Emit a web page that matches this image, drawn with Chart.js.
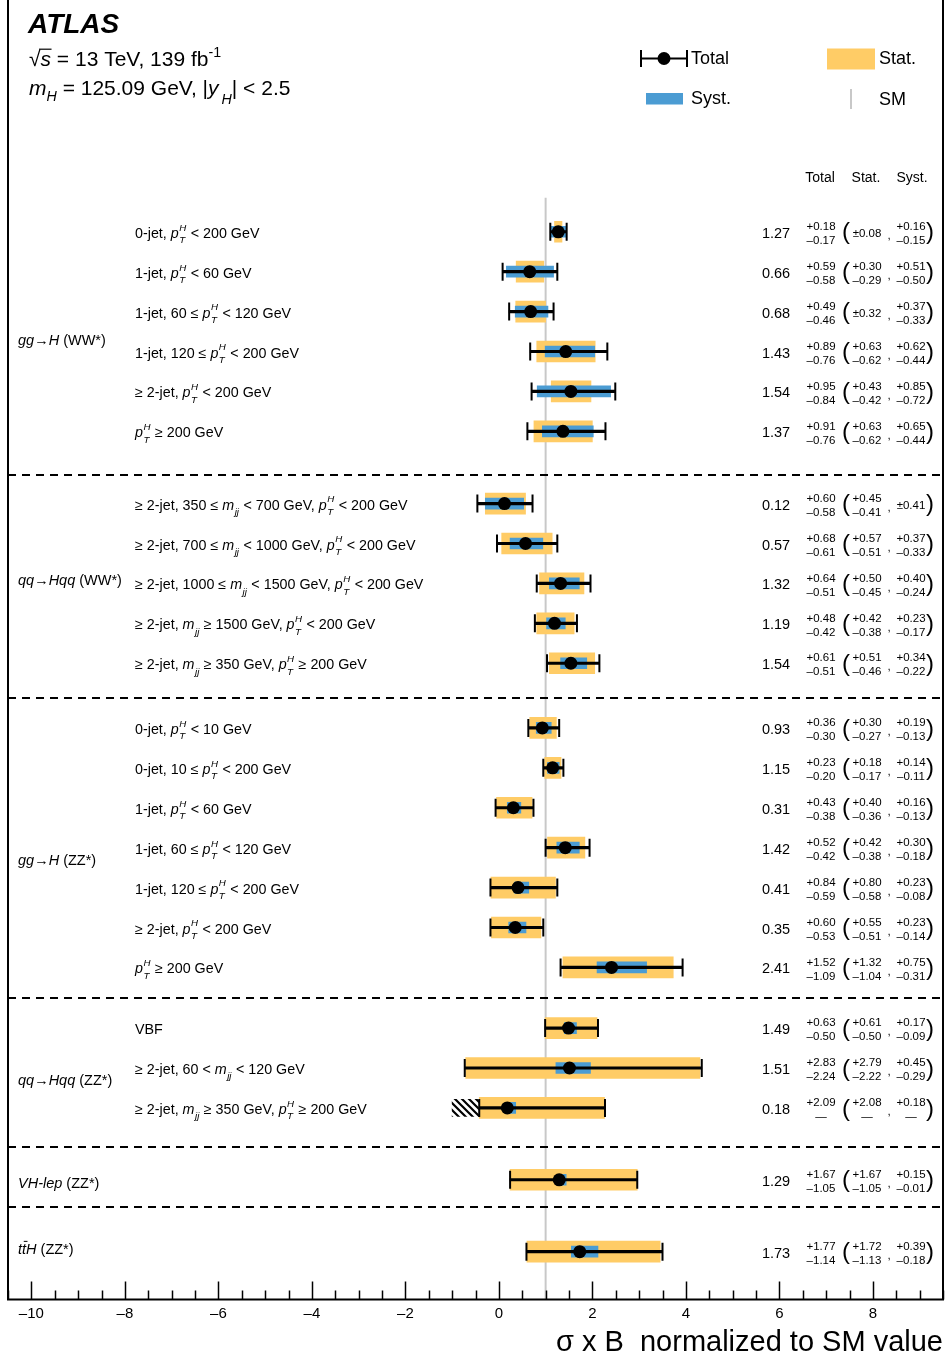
<!DOCTYPE html>
<html>
<head>
<meta charset="utf-8">
<script src="https://cdn.jsdelivr.net/npm/chart.js@4.4.1/dist/chart.umd.min.js"></script>
<style>
html,body{margin:0;padding:0;background:#fff;}
#wrap{width:945px;height:1365px;position:relative;}
canvas{display:block;}
</style>
</head>
<body>
<div id="wrap"><canvas id="c" width="945" height="1365"></canvas></div>
<script>
// ---------------- DATA ----------------
const rowLabels = [
  "0-jet, {pT} < 200 GeV",
  "1-jet, {pT} < 60 GeV",
  "1-jet, 60 \u2264 {pT} < 120 GeV",
  "1-jet, 120 \u2264 {pT} < 200 GeV",
  "\u2265 2-jet, {pT} < 200 GeV",
  "{pT} \u2265 200 GeV",
  "\u2265 2-jet, 350 \u2264 {mjj} < 700 GeV, {pT} < 200 GeV",
  "\u2265 2-jet, 700 \u2264 {mjj} < 1000 GeV, {pT} < 200 GeV",
  "\u2265 2-jet, 1000 \u2264 {mjj} < 1500 GeV, {pT} < 200 GeV",
  "\u2265 2-jet, {mjj} \u2265 1500 GeV, {pT} < 200 GeV",
  "\u2265 2-jet, {mjj} \u2265 350 GeV, {pT} \u2265 200 GeV",
  "0-jet, {pT} < 10 GeV",
  "0-jet, 10 \u2264 {pT} < 200 GeV",
  "1-jet, {pT} < 60 GeV",
  "1-jet, 60 \u2264 {pT} < 120 GeV",
  "1-jet, 120 \u2264 {pT} < 200 GeV",
  "\u2265 2-jet, {pT} < 200 GeV",
  "{pT} \u2265 200 GeV",
  "VBF",
  "\u2265 2-jet, 60 < {mjj} < 120 GeV",
  "\u2265 2-jet, {mjj} \u2265 350 GeV, {pT} \u2265 200 GeV",
  "",
  ""
];
const groupSizes = [6, 5, 7, 3, 1, 1];
const groupNames = [
  [{k:'i',t:'gg'}, '\u2192', {k:'i',t:'H'}, ' (WW*)'],
  [{k:'i',t:'qq'}, '\u2192', {k:'i',t:'Hqq'}, ' (WW*)'],
  [{k:'i',t:'gg'}, '\u2192', {k:'i',t:'H'}, ' (ZZ*)'],
  [{k:'i',t:'qq'}, '\u2192', {k:'i',t:'Hqq'}, ' (ZZ*)'],
  [{k:'i',t:'VH-lep'}, ' (ZZ*)'],
  [{k:'i',t:'t'}, {k:'tbar'}, {k:'i',t:'H'}, ' (ZZ*)']
];
const central = [1.27,0.66,0.68,1.43,1.54,1.37, 0.12,0.57,1.32,1.19,1.54, 0.93,1.15,0.31,1.42,0.41,0.35,2.41, 1.49,1.51,0.18, 1.29, 1.73];
const totUp   = [0.18,0.59,0.49,0.89,0.95,0.91, 0.60,0.68,0.64,0.48,0.61, 0.36,0.23,0.43,0.52,0.84,0.60,1.52, 0.63,2.83,2.09, 1.67, 1.77];
const totDn   = [0.17,0.58,0.46,0.76,0.84,0.76, 0.58,0.61,0.51,0.42,0.51, 0.30,0.20,0.38,0.42,0.59,0.53,1.09, 0.50,2.24,null, 1.05, 1.14];
const statUp  = [0.08,0.30,0.32,0.63,0.43,0.63, 0.45,0.57,0.50,0.42,0.51, 0.30,0.18,0.40,0.42,0.80,0.55,1.32, 0.61,2.79,2.08, 1.67, 1.72];
const statDn  = [0.08,0.29,0.32,0.62,0.42,0.62, 0.41,0.51,0.45,0.38,0.46, 0.27,0.17,0.36,0.38,0.58,0.51,1.04, 0.50,2.22,null, 1.05, 1.13];
const systUp  = [0.16,0.51,0.37,0.62,0.85,0.65, 0.41,0.37,0.40,0.23,0.34, 0.19,0.14,0.16,0.30,0.23,0.23,0.75, 0.17,0.45,0.18, 0.15, 0.39];
const systDn  = [0.15,0.50,0.33,0.44,0.72,0.44, 0.41,0.33,0.24,0.17,0.22, 0.13,0.11,0.13,0.18,0.08,0.14,0.31, 0.09,0.29,null, 0.01, 0.18];
// lower edge drawn where the lower uncertainty is undefined (physical boundary)
const lowerEdge = [null,null,null,null,null,null, null,null,null,null,null, null,null,null,null,null,null,null, null,null,-0.42, null, null];
// hatched excluded region
const hatchRow = [20];
const hatchFrom = [-1.0];
const hatchTo = [-0.42];
const smValue = 1;
const xMajorTicks = [-10,-8,-6,-4,-2,0,2,4,6,8];
const xMin = -10.5, xMax = 9.5, xMinorStep = 0.5;

// ---------------- LAYOUT ----------------
const FAM = '"Liberation Sans", Arial, Helvetica, sans-serif';
const STAT_COLOR = '#ffcc66';
const SYST_COLOR = '#4b9cd3';
const SM_COLOR = '#c8c8c8';
const GAP = [1.81, 1.62, 1.52, 1.80, 1.80];
const DASH_OFF = [1.10, 0.86, 0.77, 0.98, 0.69];
const GLABEL_OFF = [0.22, -0.08, 0.30, 0.31, 0.08, -0.07];
const ROW0_PX = 231.7, UNIT_PX = 39.9, AREA_BOTTOM = 1299;
const yMin = -ROW0_PX / UNIT_PX, yMax = yMin + AREA_BOTTOM / UNIT_PX;

const rowPos = [], dashPos = [], groupLabelPos = [];
(function(){
  let v = 0;
  for (let g = 0; g < groupSizes.length; g++) {
    const first = v;
    for (let k = 0; k < groupSizes[g]; k++) { rowPos.push(v); v += 1; }
    const last = v - 1;
    groupLabelPos.push((first + last) / 2 + GLABEL_OFF[g]);
    if (g < GAP.length) { dashPos.push(last + DASH_OFF[g]); v = last + GAP[g]; }
  }
})();

const N = central.length;
const idx = [...Array(N).keys()];
const lowOf = (c, d, i, fallback) => d == null ? (i >= 0 && lowerEdge[i] != null ? lowerEdge[i] : fallback) : c - d;
const statData = idx.map(i => ({y: rowPos[i], x: [lowOf(central[i], statDn[i], i, central[i]), central[i] + statUp[i]]}));
const systData = idx.map(i => ({y: rowPos[i], x: [lowOf(central[i], systDn[i], -1, central[i]), central[i] + systUp[i]]}));
const totLo = idx.map(i => lowOf(central[i], totDn[i], i, central[i]));
const totHi = idx.map(i => central[i] + totUp[i]);
const totData = idx.map(i => ({y: rowPos[i], x: [totLo[i], totHi[i]]}));
const capData = [];
idx.forEach(i => { capData.push({x: totLo[i], y: rowPos[i]}); capData.push({x: totHi[i], y: rowPos[i]}); });
const dotData = idx.map(i => ({x: central[i], y: rowPos[i]}));
const hatchData = hatchRow.map((r, j) => ({y: rowPos[r], x: [hatchFrom[j], hatchTo[j]]}));

function hatchPattern(ctx) {
  const c = document.createElement('canvas'); c.width = 7; c.height = 7;
  const g = c.getContext('2d');
  g.strokeStyle = '#000'; g.lineWidth = 2.2; g.lineCap = 'square';
  g.beginPath(); g.moveTo(0, 0); g.lineTo(7, 7); g.moveTo(-2, 5); g.lineTo(2, 9); g.moveTo(5, -2); g.lineTo(9, 2); g.stroke();
  return ctx.createPattern(c, 'repeat');
}

// ---------------- TEXT HELPERS ----------------
function font(sz, it, bold) { return (it ? 'italic ' : '') + (bold ? 'bold ' : '') + sz + 'px ' + FAM; }
function parseMarkup(str) {
  const out = []; const re = /\{(pT|mjj)\}/g; let last = 0, m;
  while ((m = re.exec(str))) { if (m.index > last) out.push(str.slice(last, m.index)); out.push({k: m[1]}); last = re.lastIndex; }
  if (last < str.length) out.push(str.slice(last));
  return out;
}
function drawRich(ctx, x, base, segs, size) {
  let cx = x; const ss = size * 0.68;
  ctx.textAlign = 'left'; ctx.textBaseline = 'alphabetic';
  const put = (t, sz, it, dy) => { ctx.font = font(sz, it); ctx.fillText(t, cx, base + dy); return ctx.measureText(t).width; };
  for (const s of segs) {
    if (typeof s === 'string') { cx += put(s, size, false, 0); continue; }
    if (s.k === 'i') cx += put(s.t, size, true, 0);
    else if (s.k === 'pT') {
      cx += put('p', size, true, 0) + 0.5;
      const w1 = put('H', ss, true, -size * 0.5);
      const w2 = put('T', ss, true, size * 0.38);
      cx += Math.max(w1, w2) + 0.5;
    } else if (s.k === 'mjj') {
      cx += put('m', size, true, 0) + 0.5;
      cx += put('jj', ss, true, size * 0.38) + 0.5;
    } else if (s.k === 'sub') {
      cx += (s.gap || 0);
      cx += put(s.t, ss, !!s.it, size * (s.dy || 0.3));
    } else if (s.k === 'sup') {
      cx += put(s.t, ss, !!s.it, -size * 0.45);
    } else if (s.k === 'tbar') {
      const w = put('t', size, true, 0);
      ctx.lineWidth = 1; ctx.strokeStyle = '#000';
      ctx.beginPath(); ctx.moveTo(cx + size * 0.12, base - size * 0.86); ctx.lineTo(cx + w + size * 0.1, base - size * 0.86); ctx.stroke();
      cx += w;
    } else if (s.k === 'sqrt') {
      const w = put('\u221A', size, false, 0);
      const x0 = cx + w - 1.5; cx += w;
      const w2 = put('s', size, true, 0);
      ctx.lineWidth = 1.2; ctx.strokeStyle = '#000';
      ctx.beginPath(); ctx.moveTo(x0, base - size * 0.80); ctx.lineTo(cx + w2 + 0.5, base - size * 0.80); ctx.stroke();
      cx += w2;
    }
  }
  return cx;
}
const f2 = v => v.toFixed(2);
function drawErr(ctx, xc, y, up, dn) {
  ctx.textAlign = 'center'; ctx.textBaseline = 'middle';
  ctx.font = font(11.5);
  if (dn != null && Math.abs(up - dn) < 1e-9) { ctx.fillText('\u00B1' + f2(up), xc, y); return; }
  ctx.fillText('+' + f2(up), xc, y - 7);
  ctx.fillText(dn == null ? '\u2014' : '\u2013' + f2(dn), xc, y + 7);
}

// ---------------- OVERLAY PLUGIN ----------------
const overlay = {
  id: 'overlay',
  afterDraw(chart) {
    const {ctx, chartArea: a, scales: {x, y}} = chart;
    ctx.save();
    ctx.fillStyle = '#000'; ctx.strokeStyle = '#000';
    // dashed separators
    ctx.lineWidth = 2; ctx.setLineDash([8, 6]);
    dashPos.forEach(d => { const py = Math.round(y.getPixelForValue(d)); ctx.beginPath(); ctx.moveTo(a.left, py); ctx.lineTo(a.right, py); ctx.stroke(); });
    ctx.setLineDash([]);
    // frame
    ctx.lineWidth = 2;
    ctx.beginPath(); ctx.moveTo(a.left, 0); ctx.lineTo(a.left, a.bottom); ctx.lineTo(a.right, a.bottom); ctx.lineTo(a.right, 0); ctx.stroke();
    // tick marks (inside)
    ctx.lineWidth = 1.5;
    for (let v = xMin; v <= xMax + 1e-9; v += xMinorStep) {
      const major = xMajorTicks.some(t => Math.abs(t - v) < 1e-9);
      const px = Math.round(x.getPixelForValue(v)) + 0.5;
      ctx.beginPath(); ctx.moveTo(px, a.bottom); ctx.lineTo(px, a.bottom - (major ? 18 : 9)); ctx.stroke();
    }
    // row labels
    idx.forEach(i => {
      if (!rowLabels[i]) return;
      const py = y.getPixelForValue(rowPos[i]) + 1;
      drawRich(ctx, 135, py + 5, parseMarkup(rowLabels[i]), 14.3);
    });
    // group labels
    groupNames.forEach((segs, g) => {
      const py = y.getPixelForValue(groupLabelPos[g]);
      drawRich(ctx, 18, py + 5, segs, 14.5);
    });
    // value columns
    ctx.font = font(14); ctx.textAlign = 'center'; ctx.textBaseline = 'middle';
    ctx.fillText('Total', 820, 178); ctx.fillText('Stat.', 866, 178); ctx.fillText('Syst.', 912, 178);
    idx.forEach(i => {
      const py = y.getPixelForValue(rowPos[i]) + 2;
      ctx.font = font(14.5); ctx.textAlign = 'center'; ctx.textBaseline = 'middle';
      ctx.fillText(f2(central[i]), 776, py);
      drawErr(ctx, 821, py, totUp[i], totDn[i]);
      drawErr(ctx, 867, py, statUp[i], statDn[i]);
      drawErr(ctx, 911, py, systUp[i], systDn[i]);
      ctx.font = font(24); ctx.textAlign = 'center'; ctx.textBaseline = 'middle';
      ctx.fillText('(', 846, py - 1); ctx.fillText(')', 930, py - 1);
      ctx.font = font(11.5); ctx.fillText(',', 889, py + 2);
    });
    // header text
    ctx.textAlign = 'left'; ctx.textBaseline = 'alphabetic';
    ctx.font = font(28, true, true); ctx.fillText('ATLAS', 28, 33);
    drawRich(ctx, 29, 66, [{k:'sqrt'}, ' = 13 TeV, 139 fb', {k:'sup', t:'-1'}], 21);
    drawRich(ctx, 29, 95, [{k:'i',t:'m'}, {k:'sub',t:'H',it:true,dy:0.3}, ' = 125.09 GeV, |', {k:'i',t:'y'}, {k:'sub',t:'H',it:true,dy:0.45,gap:3}, '| < 2.5'], 21);
    // legend
    ctx.lineWidth = 2;
    ctx.beginPath(); ctx.moveTo(640, 58.5); ctx.lineTo(688, 58.5); ctx.moveTo(641, 50); ctx.lineTo(641, 67); ctx.moveTo(687, 50); ctx.lineTo(687, 67); ctx.stroke();
    ctx.beginPath(); ctx.arc(664, 58.5, 6.5, 0, Math.PI * 2); ctx.fill();
    ctx.fillStyle = STAT_COLOR; ctx.fillRect(827, 48.5, 48, 21);
    ctx.fillStyle = SYST_COLOR; ctx.fillRect(646, 93, 37, 11.5);
    ctx.strokeStyle = SM_COLOR; ctx.beginPath(); ctx.moveTo(851, 89); ctx.lineTo(851, 109); ctx.stroke();
    ctx.fillStyle = '#000'; ctx.font = font(18); ctx.textBaseline = 'middle';
    ctx.fillText('Total', 691, 59); ctx.fillText('Stat.', 879, 59.5); ctx.fillText('Syst.', 691, 99); ctx.fillText('SM', 879, 100);
    ctx.restore();
  }
};

// ---------------- CHART ----------------
const ctx = document.getElementById('c').getContext('2d');
new Chart(ctx, {
  type: 'bar',
  data: {
    datasets: [
      {type: 'scatter', label: 'SM', data: [{x: smValue, y: -0.85}, {x: smValue, y: yMax}], showLine: true, borderColor: SM_COLOR, borderWidth: 2, pointRadius: 0, order: 10},
      {type: 'bar', label: 'Boundary', indexAxis: 'y', data: hatchData, backgroundColor: hatchPattern(ctx), barThickness: 17, grouped: false, borderWidth: 0, order: 7},
      {type: 'bar', label: 'Stat.', indexAxis: 'y', data: statData, backgroundColor: STAT_COLOR, barThickness: 21, grouped: false, borderWidth: 0, order: 6},
      {type: 'bar', label: 'Syst.', indexAxis: 'y', data: systData, backgroundColor: SYST_COLOR, barThickness: 11, grouped: false, borderWidth: 0, order: 5},
      {type: 'bar', label: 'Total', indexAxis: 'y', data: totData, backgroundColor: '#000', barThickness: 2.5, grouped: false, borderWidth: 0, order: 4},
      {type: 'scatter', label: 'Total caps', data: capData, pointStyle: 'line', rotation: 90, radius: 9, borderWidth: 2, borderColor: '#000', order: 3},
      {type: 'scatter', label: 'Measured', data: dotData, pointStyle: 'circle', radius: 6.5, backgroundColor: '#000', borderWidth: 0, order: 2}
    ]
  },
  options: {
    responsive: false,
    animation: false,
    devicePixelRatio: 1,
    events: [],
    layout: {autoPadding: false, padding: {left: 8, right: 2, top: 0, bottom: 0}},
    plugins: {legend: {display: false}, tooltip: {enabled: false}},
    scales: {
      x: {
        type: 'linear', position: 'bottom', min: xMin, max: xMax, offset: false,
        grid: {display: false, drawTicks: false, offset: false}, border: {display: false},
        afterBuildTicks: s => { s.ticks = xMajorTicks.map(v => ({value: v})); },
        ticks: {autoSkip: false, maxRotation: 0, padding: 7, color: '#000', font: {family: FAM, size: 15, lineHeight: 1},
                callback: v => (v < 0 ? '\u2013' + Math.abs(v) : String(v))},
        title: {display: true, text: '\u03C3 x B  normalized to SM value', align: 'end', color: '#000',
                font: {family: FAM, size: 29, lineHeight: 1}, padding: {top: 0, bottom: 7.5}}
      },
      y: {type: 'linear', display: false, reverse: true, min: yMin, max: yMax, offset: false, grid: {offset: false}}
    }
  },
  plugins: [overlay]
});
</script>
</body>
</html>
